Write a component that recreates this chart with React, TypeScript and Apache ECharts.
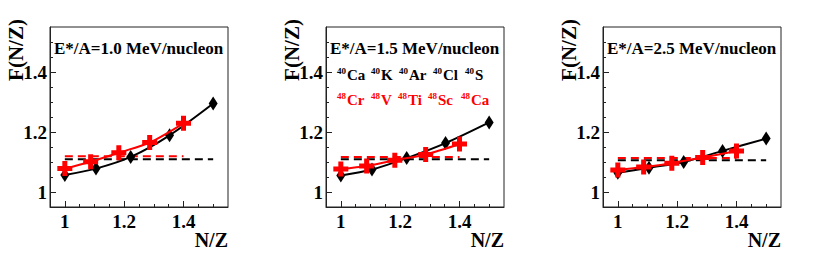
import React, { useEffect, useRef } from "react";
import * as echarts from "echarts";

// N/Z values of the isotopes
const nzA40 = [1.0, 1.105, 1.222, 1.353, 1.5]; // 40Ca 40K 40Ar 40Cl 40S
const nzA48 = [1.0, 1.087, 1.182, 1.286, 1.4]; // 48Cr 48V 48Ti 48Sc 48Ca

const panelTitles = [
  "E*/A=1.0 MeV/nucleon",
  "E*/A=1.5 MeV/nucleon",
  "E*/A=2.5 MeV/nucleon",
];

const blackP1 = [1.057, 1.078, 1.117, 1.189, 1.295];
const redP1 = [1.078, 1.101, 1.131, 1.165, 1.229];
const blackP2 = [1.055, 1.075, 1.113, 1.163, 1.232];
const redP2 = [1.077, 1.087, 1.106, 1.125, 1.16];
const blackP3 = [1.064, 1.081, 1.1, 1.137, 1.178];
const redP3 = [1.073, 1.083, 1.096, 1.115, 1.137];

const blackDash = [1.109, 1.109, 1.106];
const redDash = [1.119, 1.117, 1.113];

const xMajor = [1, 1.2, 1.4];
const xMinor = [1.05, 1.1, 1.15, 1.25, 1.3, 1.35, 1.45, 1.5];
const yMajor = [1, 1.2, 1.4];
const yMinor = [1.05, 1.1, 1.15, 1.25, 1.3, 1.35, 1.45, 1.5];

const isoA40 = ["Ca", "K", "Ar", "Cl", "S"];
const isoA48 = ["Cr", "V", "Ti", "Sc", "Ca"];

const blackSets = [blackP1, blackP2, blackP3];
const redSets = [redP1, redP2, redP3];

const FONT = "'Liberation Serif', 'Times New Roman', serif";
const crossPath = "path://M3,0H6V3H9V6H6V9H3V6H0V3H3Z";

export default function App() {
  const ref = useRef<HTMLDivElement>(null);
  useEffect(() => {
    if (!ref.current) return;
    const chart = echarts.init(ref.current, null, { renderer: "svg" });
    const lefts = [50, 326, 603];
    const W = 178;
    const TOP = 27;
    const H = 180;

    const grids: any[] = [];
    const xAxes: any[] = [];
    const yAxes: any[] = [];
    const series: any[] = [];
    const graphics: any[] = [];

    lefts.forEach((L, i) => {
      grids.push({
        left: L,
        top: TOP,
        width: W,
        height: H,
        show: true,
        borderColor: "#222",
        borderWidth: 1,
        backgroundColor: "transparent",
      });
      const base = {
        type: "value",
        min: 0.95,
        max: 1.55,
        gridIndex: i,
        splitLine: { show: false },
      };
      xAxes.push({
        ...base,
        position: "bottom",
        axisLine: { show: true, lineStyle: { color: "#222", width: 1 } },
        axisTick: {
          show: true,
          inside: true,
          length: 6,
          customValues: xMajor,
          lineStyle: { color: "#222", width: 1 },
        },
        axisLabel: {
          show: true,
          customValues: xMajor,
          margin: 5,
          color: "#000",
          fontFamily: FONT,
          fontWeight: "bold",
          fontSize: 19,
          formatter: (v: number) => String(v),
        },
      });
      xAxes.push({
        ...base,
        position: "bottom",
        axisLine: { show: false },
        axisTick: {
          show: true,
          inside: true,
          length: 3,
          customValues: xMinor,
          lineStyle: { color: "#222", width: 1 },
        },
        axisLabel: { show: false },
      });
      yAxes.push({
        ...base,
        position: "left",
        axisLine: { show: true, lineStyle: { color: "#222", width: 1 } },
        axisTick: {
          show: true,
          inside: true,
          length: 6,
          customValues: yMajor,
          lineStyle: { color: "#222", width: 1 },
        },
        axisLabel: {
          show: true,
          customValues: yMajor,
          margin: 3,
          color: "#000",
          fontFamily: FONT,
          fontWeight: "bold",
          fontSize: 19,
          formatter: (v: number) => String(v),
        },
      });
      yAxes.push({
        ...base,
        position: "left",
        axisLine: { show: false },
        axisTick: {
          show: true,
          inside: true,
          length: 3,
          customValues: yMinor,
          lineStyle: { color: "#222", width: 1 },
        },
        axisLabel: { show: false },
      });

      const xa = i * 2;
      const ya = i * 2;
      series.push({
        type: "line",
        xAxisIndex: xa,
        yAxisIndex: ya,
        data: [
          [nzA48[0], redDash[i]],
          [nzA48[nzA48.length - 1], redDash[i]],
        ],
        symbol: "none",
        lineStyle: { color: "#ff0000", width: 2, type: [8, 5] },
        z: 2,
      });
      series.push({
        type: "line",
        xAxisIndex: xa,
        yAxisIndex: ya,
        data: [
          [nzA40[0], blackDash[i]],
          [nzA40[nzA40.length - 1], blackDash[i]],
        ],
        symbol: "none",
        lineStyle: { color: "#000", width: 2, type: [8, 5] },
        z: 3,
      });
      series.push({
        type: "line",
        xAxisIndex: xa,
        yAxisIndex: ya,
        data: nzA40.map((x, k) => [x, blackSets[i][k]]),
        smooth: 0.3,
        symbol: "diamond",
        symbolSize: [9, 14],
        itemStyle: { color: "#000" },
        lineStyle: { color: "#000", width: 2 },
        z: 4,
      });
      series.push({
        type: "line",
        xAxisIndex: xa,
        yAxisIndex: ya,
        data: nzA48.map((x, k) => [x, redSets[i][k]]),
        smooth: 0.3,
        symbol: crossPath,
        symbolSize: 15,
        itemStyle: { color: "#ff0000" },
        lineStyle: { color: "#ff0000", width: 2 },
        z: 5,
      });

      graphics.push({
        type: "text",
        x: L + 4,
        y: 48,
        style: {
          text: panelTitles[i],
          fontFamily: FONT,
          fontWeight: "bold",
          fontSize: 17,
          fill: "#000",
          align: "left",
          verticalAlign: "middle",
        },
      });
      graphics.push({
        type: "text",
        x: L - 34,
        y: 50,
        rotation: Math.PI / 2,
        style: {
          text: "F(N/Z)",
          fontFamily: FONT,
          fontWeight: "bold",
          fontSize: 21,
          fill: "#000",
          align: "center",
          verticalAlign: "middle",
        },
      });
      graphics.push({
        type: "text",
        x: L + W,
        y: 240,
        style: {
          text: "N/Z",
          fontFamily: FONT,
          fontWeight: "bold",
          fontSize: 20,
          fill: "#000",
          align: "right",
          verticalAlign: "middle",
        },
      });
    });

    const rowX40 = [337, 371, 399, 433, 465];
    const rowX48 = [337, 371, 398, 428, 461];
    const mkIso = (A: string, el: string, x: number, y: number, color: string) => ({
      type: "text",
      x,
      y,
      style: {
        text: `{s|${A}}{m|${el}}`,
        fill: color,
        align: "left",
        verticalAlign: "middle",
        rich: {
          s: {
            fontFamily: FONT,
            fontWeight: "bold",
            fontSize: 9,
            lineHeight: 16,
            verticalAlign: "top",
            fill: color,
            padding: [0, 1, 0, 0],
          },
          m: {
            fontFamily: FONT,
            fontWeight: "bold",
            fontSize: 15,
            lineHeight: 16,
            verticalAlign: "bottom",
            fill: color,
          },
        },
      },
    });
    isoA40.forEach((el, k) => graphics.push(mkIso("40", el, rowX40[k], 74, "#000")));
    isoA48.forEach((el, k) => graphics.push(mkIso("48", el, rowX48[k], 99, "#ff0000")));

    chart.setOption({
      animation: false,
      backgroundColor: "#fff",
      grid: grids,
      xAxis: xAxes,
      yAxis: yAxes,
      series,
      graphic: graphics,
    });
    return () => chart.dispose();
  }, []);
  return (
    <div
      ref={ref}
      style={{ position: "fixed", left: 0, top: 0, width: 830, height: 262 }}
    />
  );
}
